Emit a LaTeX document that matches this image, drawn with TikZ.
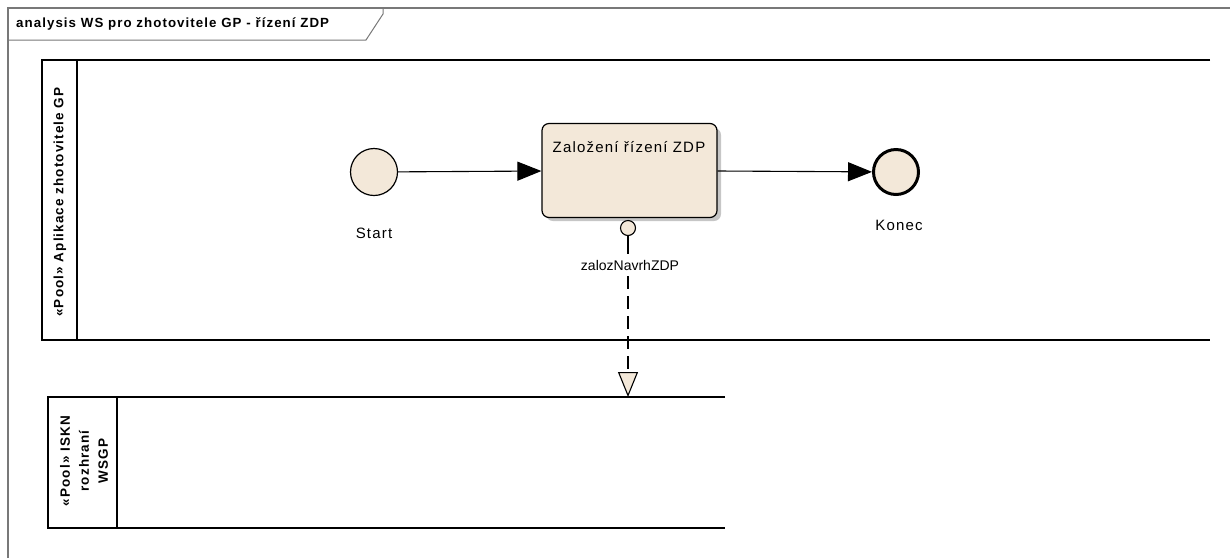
\documentclass[tikz,border=0pt]{standalone}
\usepackage{fontspec}
\setmainfont[LetterSpace=8]{Liberation Sans}
\usetikzlibrary{arrows.meta}
\definecolor{bpfill}{RGB}{243,232,217}
\definecolor{framegray}{RGB}{120,120,120}
\begin{document}
\begin{tikzpicture}[x=1pt,y=-1pt,
  lbl/.style={font=\fontsize{15}{17}\selectfont, inner sep=1pt},
  poolline/.style={line width=1.7pt},
  pooltext/.style={font=\bfseries\fontsize{13.5}{19}\selectfont, rotate=90, align=center},
  flow/.style={line width=1.1pt, -{Triangle[length=24pt,width=19pt]}},
  evt/.style={circle, draw, fill=bpfill, inner sep=0pt}
]
\useasboundingbox (0,0) rectangle (1230,558);
% diagram frame
\draw[framegray, line width=1.3pt] (8,558) -- (8,8) -- (1230,8);
\draw[framegray, line width=1pt] (8,40) -- (366,40) -- (383,14) -- (383,8);
\node[anchor=west, font=\bfseries\fontsize{13.3}{15}\selectfont, inner sep=0pt] (title) at (16,24) {analysis WS pro zhotovitele GP - řízení ZDP};
% pool 1
\draw[poolline] (1210,60) -- (42,60) -- (42,340) -- (1210,340);
\draw[poolline] (77,60) -- (77,340);
\node[pooltext] (pool1) at (60,202) {«Pool» Aplikace zhotovitele GP};
% pool 2
\draw[poolline] (725,397) -- (48,397) -- (48,528) -- (725,528);
\draw[poolline] (117,397) -- (117,528);
\node[pooltext] (pool2) at (84,461) {«Pool» ISKN\\rozhraní\\WSGP};
\coordinate (p2top) at (628,397);
% start
\node[evt, line width=1.2pt, minimum size=47pt] (start) at (374,172) {};
\node[lbl] (startl) at (374,233) {Start};
% task
\fill[gray!45, rounded corners=7pt] (546,128) rectangle (721,221);
\node[draw, line width=1.2pt, fill=bpfill, rounded corners=7pt, minimum width=175pt, minimum height=94pt, inner sep=0pt] (task) at (629.5,170.5) {};
\node[lbl] (taskl) at (629,147) {Založení řízení ZDP};
% end
\node[evt, line width=3pt, minimum size=45pt] (end) at (896,172) {};
\node[lbl] (endl) at (899,225) {Konec};
% port
\node[evt, line width=1.1pt, minimum size=15pt] (port) at (628,228) {};
\node[font=\addfontfeature{LetterSpace=0}\fontsize{14}{16}\selectfont, inner sep=6pt] (portl) at (630,265) {zalozNavrhZDP};
% connectors
\draw[flow] (start) -- (task);
\draw[flow] (task) -- (end);
\draw[line width=1.1pt] (port) -- (port |- portl.north);
\draw[line width=1.1pt, dash pattern=on 13pt off 7pt, -{Triangle[length=25pt,width=20pt,fill=bpfill,line width=1.1pt]}] (port |- portl.south) -- (p2top);
\end{tikzpicture}
\end{document}
